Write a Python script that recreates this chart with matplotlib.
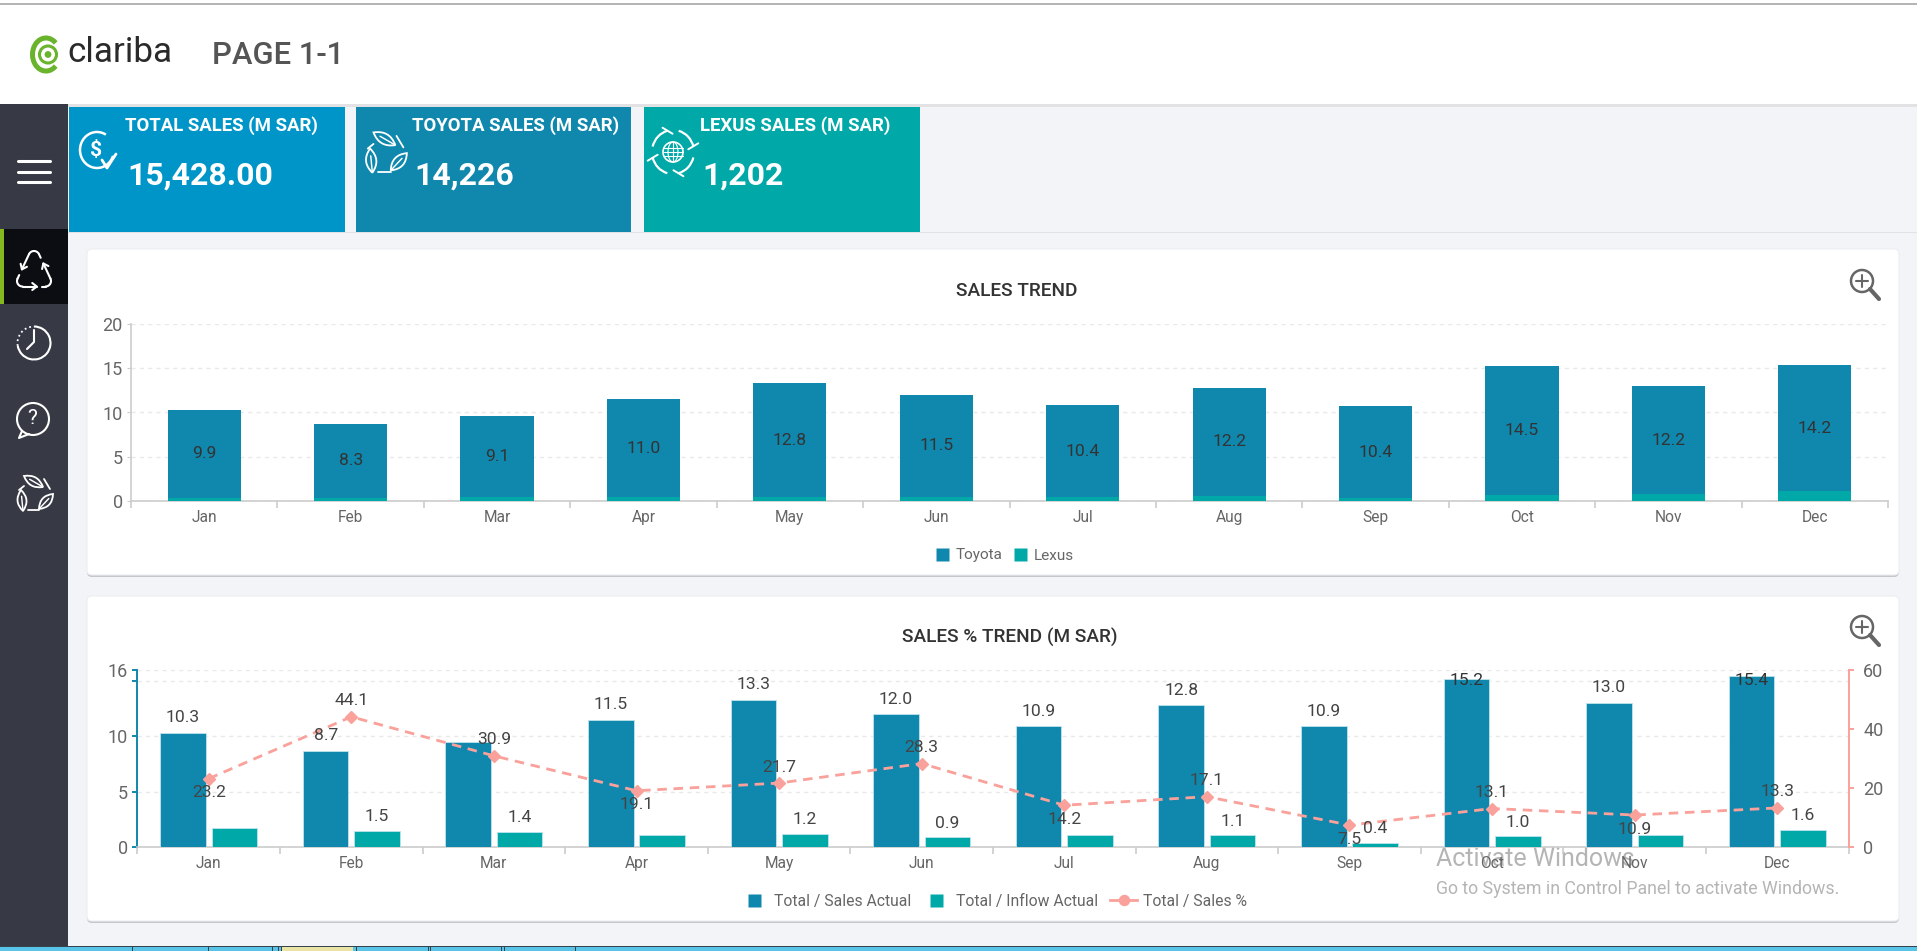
import numpy as np
import matplotlib
matplotlib.use("Agg")
import matplotlib.pyplot as plt
from matplotlib.patches import Rectangle, Circle, Arc, FancyBboxPatch, Ellipse, Polygon, PathPatch
from matplotlib.path import Path
from matplotlib.lines import Line2D

# ---------- data ----------
months = ["Jan", "Feb", "Mar", "Apr", "May", "Jun", "Jul", "Aug", "Sep", "Oct", "Nov", "Dec"]
toyota = [9.9, 8.3, 9.1, 11.0, 12.8, 11.5, 10.4, 12.2, 10.4, 14.5, 12.2, 14.2]
lexus = [0.4, 0.4, 0.5, 0.5, 0.5, 0.5, 0.45, 0.6, 0.35, 0.7, 0.8, 1.15]
sales_actual = [10.3, 8.7, 9.5, 11.5, 13.3, 12.0, 10.9, 12.8, 10.9, 15.2, 13.0, 15.4]
inflow_actual = [1.7, 1.5, 1.4, 1.1, 1.2, 0.9, 1.1, 1.1, 0.4, 1.0, 1.1, 1.6]
sales_pct = [23.2, 44.1, 30.9, 19.1, 21.7, 28.3, 14.2, 17.1, 7.5, 13.1, 10.9, 13.3]
pct_label_above = [False, True, True, False, True, True, False, True, False, True, False, True]
hidden_sales_labels = ["Mar"]
hidden_inflow_labels = ["Jan", "Apr", "Jul", "Nov"]
kpi_titles = ["TOTAL SALES (M SAR)", "TOYOTA SALES (M SAR)", "LEXUS SALES (M SAR)"]
kpi_values = ["15,428.00", "14,226", "1,202"]

BLUE, TEAL, PINK = "#1087ad", "#00a9a8", "#f9a19a"
GREY = "#666666"
W, H = 1917, 951
plt.rcParams["font.family"] = ["Roboto", "DejaVu Sans"]
px = 0.72  # pixels -> points at dpi 100

fig = plt.figure(figsize=(W / 100, H / 100), dpi=100, facecolor="#f3f4f8")

def axes_px(x0, y0, x1, y1, **kw):
    return fig.add_axes([x0 / W, 1 - y1 / H, (x1 - x0) / W, (y1 - y0) / H], **kw)

bg = axes_px(0, 0, W, H)
bg.set_xlim(0, W); bg.set_ylim(H, 0); bg.axis("off")

def rect(x0, y0, x1, y1, c, z=1):
    bg.add_patch(Rectangle((x0, y0), x1 - x0, y1 - y0, fc=c, ec="none", zorder=z))

def ln(xs, ys, c="white", lw=1.6, z=5, **kw):
    bg.plot(xs, ys, color=c, lw=lw, zorder=z, solid_capstyle="round", **kw)

# header
rect(0, 0, W, 104, "white")
rect(0, 3, W, 4.5, "#b5b5b5")
rect(0, 104, W, 107, "#e2e2e4")
rect(0, 232, W, 233, "#e2e2e4")
# logo
bg.add_patch(Arc((46, 54.5), 27, 33, theta1=50, theta2=310, ec="#6ab42d", lw=3.6, zorder=3))
bg.add_patch(Circle((48, 54.5), 8.5, fc="none", ec="#6ab42d", lw=2.2, zorder=3))
bg.add_patch(Circle((48, 54.5), 3.4, fc="#6ab42d", ec="none", zorder=3))
bg.text(67, 53, "clariba", fontsize=35 * px, color="#2a2a2a", va="center", ha="left", zorder=3)
bg.text(212, 55, "PAGE 1-1", fontsize=31 * px, color="#555555", va="center", ha="left",
        fontweight="medium", zorder=3)

# sidebar
rect(0, 104, 68, 951, "#373a45", 2)
rect(0, 229, 68, 304, "#0b0d12", 3)
rect(0, 229, 4, 304, "#85b81f", 4)
for y in (161, 171.5, 181.5):
    ln([18, 50], [y, y], lw=2.2)

def recycle(cx, cy, c="white", lw=1.5):
    """rounded triangle broken by three arrows"""
    rad = 5.5
    pts = np.array([[cx, cy - 11.5], [cx - 11.5, cy + 13], [cx + 11.5, cy + 13]], float)
    centre = pts.mean(axis=0)
    n = 3
    for i in range(n):
        a, b = pts[i], pts[(i + 1) % n]
        d = (b - a) / np.linalg.norm(b - a)
        nrm = np.array([d[1], -d[0]])
        if np.dot(nrm, a - centre) < 0:
            nrm = -nrm
        p0, p1 = a + nrm * rad, b + nrm * rad
        q = p0 + (p1 - p0) * 0.62
        ln([p0[0], q[0]], [p0[1], q[1]], c, lw)
        ln([q[0] - 4.5 * d[0] + 3.5 * nrm[0], q[0], q[0] - 4.5 * d[0] - 3.5 * nrm[0]],
           [q[1] - 4.5 * d[1] + 3.5 * nrm[1], q[1], q[1] - 4.5 * d[1] - 3.5 * nrm[1]], c, lw)
        ln([p1[0] - 4 * d[0], p1[0]], [p1[1] - 4 * d[1], p1[1]], c, lw)
        prev = pts[i - 1]
        ang0 = np.degrees(np.arctan2(nrm[1], nrm[0]))
        d2 = (a - prev) / np.linalg.norm(a - prev)
        nrm2 = np.array([d2[1], -d2[0]])
        if np.dot(nrm2, a - centre) < 0:
            nrm2 = -nrm2
        ang1 = np.degrees(np.arctan2(nrm2[1], nrm2[0]))
        t = np.radians(np.linspace(ang1, ang1 + ((ang0 - ang1 + 180) % 360 - 180), 14))
        ln(a[0] + rad * np.cos(t), a[1] + rad * np.sin(t), c, lw)

recycle(34, 268)
# clock
bg.add_patch(Arc((34, 343), 33, 33, theta1=-90, theta2=170, ec="white", lw=1.5, zorder=5))
bg.add_patch(Arc((34, 343), 33, 33, theta1=170, theta2=270, ec="white", lw=1.3, ls=":", zorder=5))
ln([34, 34, 27], [330, 342, 349], lw=1.5)
# speech bubble
bg.add_patch(Circle((33, 419), 16, fc="none", ec="white", lw=1.5, zorder=5))
ln([22, 19, 29], [431, 438, 434], lw=1.5)
bg.text(32.5, 419, "?", color="white", fontsize=21 * px, ha="center", va="center", zorder=6)

def leaf(base, tip, bulge, c="white", lw=1.3):
    base, tip = np.array(base, float), np.array(tip, float)
    d = tip - base
    nrm = np.array([d[1], -d[0]]) / np.linalg.norm(d)
    m = (base + tip) / 2
    verts = [base, m + nrm * bulge, tip, m - nrm * bulge, base]
    path = Path(verts, [Path.MOVETO, Path.CURVE3, Path.CURVE3, Path.CURVE3, Path.CURVE3])
    bg.add_patch(PathPatch(path, fc="none", ec=c, lw=lw, zorder=6))
    q = base + d * 0.7
    ln([base[0], q[0]], [base[1], q[1]], c, lw * 0.8, 6)

def leaves(cx, cy, s=1.0):
    leaf((cx + 9 * s, cy - 6 * s), (cx - 10 * s, cy - 17 * s), 9 * s)
    leaf((cx - 11 * s, cy + 18 * s), (cx - 13 * s, cy - 3 * s), 9 * s)
    leaf((cx + 5 * s, cy + 16 * s), (cx + 19 * s, cy + 1 * s), 9 * s)
    ln([cx + 10 * s, cx + 16 * s], [cy - 14 * s, cy - 4 * s], "white", 1.3, 6)
    ln([cx - 10 * s, cx - 15 * s], [cy - 7 * s, cy - 3 * s], "white", 1.3, 6)
    ln([cx - 6 * s, cx + 5 * s], [cy + 17 * s, cy + 17 * s], "white", 1.3, 6)

leaves(34, 493)

# KPI tiles
tiles = [(69, 345, "#0095c8"), (356, 631, BLUE), (644, 920, TEAL)]
for (x0, x1, c), t, v in zip(tiles, kpi_titles, kpi_values):
    rect(x0, 107, x1, 232, c, 2)
    bg.text(x0 + 56, 126, t, color="white", fontsize=18.6 * px, fontweight="bold", va="center", zorder=4)
    bg.text(x0 + 58, 176, v, color="white", fontsize=32 * px, fontweight="bold", va="center", zorder=4)
# KPI icons
bg.add_patch(Arc((97, 150), 34, 36, theta1=20, theta2=300, ec="white", lw=1.8, zorder=5))
bg.text(96, 150, "$", color="white", fontsize=21 * px, fontweight="bold", ha="center", va="center", zorder=5)
ln([102, 107, 116], [160, 168, 154], lw=2)
leaves(385, 152, 1.15)
# globe + swirl arrows
gx, gy = 673, 152
bg.add_patch(Circle((gx, gy), 10, fc="none", ec="white", lw=1.2, zorder=5))
bg.add_patch(Ellipse((gx, gy), 10, 20, fc="none", ec="white", lw=0.8, zorder=5))
for dy in (-4, 0, 4):
    ln([gx - 9.5, gx + 9.5], [gy + dy, gy + dy], lw=0.8)
ln([gx, gx], [gy - 10, gy + 10], lw=0.8)
for a in (45, 135, 225, 315):
    r = np.radians(a)
    bg.add_patch(Arc((gx, gy), 42, 44, theta1=a - 30, theta2=a + 30, ec="white", lw=1.6, zorder=5))
    ex, ey = gx + 21 * np.cos(r + np.radians(30)), gy + 22 * np.sin(r + np.radians(30))
    ln([ex - 5, ex, ex + 5], [ey - 3, ey, ey + 3] if a in (45, 225) else [ey + 3, ey, ey - 3], lw=1.4)

# chart cards
def card(x0, y0, x1, y1):
    bg.add_patch(FancyBboxPatch((x0, y0 + 2), x1 - x0, y1 - y0, boxstyle="round,pad=0,rounding_size=5",
                                fc="#c4c6cb", ec="none", zorder=1))
    bg.add_patch(FancyBboxPatch((x0, y0), x1 - x0, y1 - y0, boxstyle="round,pad=0,rounding_size=5",
                                fc="white", ec="#eceef1", lw=0.8, zorder=1.5))

card(87, 249, 1899, 575)
card(87, 596, 1899, 921)
bg.text(1017, 291, "SALES TREND", color="#333333", fontsize=19 * px, fontweight="medium",
        ha="center", va="center", zorder=4)
bg.text(1010, 637, "SALES % TREND (M SAR)", color="#333333", fontsize=19 * px, fontweight="medium",
        ha="center", va="center", zorder=4)
for cy in (281, 627):
    bg.add_patch(Circle((1862, cy), 11, fc="none", ec="#666666", lw=1.8, zorder=4))
    ln([1870, 1879], [cy + 8, cy + 18], "#666666", 3, 4)
    ln([1856, 1868], [cy, cy], "#666666", 1.5, 4)
    ln([1862, 1862], [cy - 6, cy + 6], "#666666", 1.5, 4)

# taskbar
rect(0, 947, W, H, "#5ac4e8", 3)
rect(0, 946, W, 947, "#33424d", 3)
rect(282, 947, 353, H, "#e9e3a5", 4)
for x in (132, 208, 272, 278, 281, 356, 428, 430, 501, 504, 575):
    rect(x, 947, x + 1, H, "#33424d", 5)

# watermark
bg.text(1436, 859, "Activate Windows", color="#b5b5b5", fontsize=25 * px, va="center", ha="left", zorder=20)
bg.text(1436, 889, "Go to System in Control Panel to activate Windows.", color="#b5b5b5",
        fontsize=17.8 * px, va="center", ha="left", zorder=20)

x = np.arange(len(months)) + 0.5
LABEL = 17.5 * px

def style_x(ax):
    ax.set_xlim(0, 12)
    ax.set_xticks(np.arange(13))
    ax.set_xticklabels([])
    ax.set_xticks(x, minor=True)
    ax.set_xticklabels(months, minor=True, fontsize=15.5 * px, color=GREY)
    ax.tick_params(axis="x", which="major", length=6.5 * px, color="#cccccc", width=1.2)
    ax.tick_params(axis="x", which="minor", length=0, pad=9 * px)
    ax.spines["bottom"].set_color("#cccccc")
    ax.spines["bottom"].set_linewidth(1.2)
    ax.spines["top"].set_visible(False)
    ax.patch.set_alpha(0)

# ---------- top chart ----------
a1 = axes_px(131, 323.7, 1888, 501.3)
a1.set_zorder(5)
style_x(a1)
a1.set_ylim(0, 20)
a1.set_yticks([0, 5, 10, 15, 20])
a1.tick_params(axis="y", length=4 * px, color="#cccccc", labelsize=18 * px, labelcolor=GREY, pad=3)
a1.spines["right"].set_visible(False)
a1.spines["left"].set_color("#cccccc")
a1.spines["left"].set_linewidth(1.2)
a1.grid(axis="y", color="#e9e9e9", lw=1, ls=(0, (3, 3)))
a1.set_axisbelow(True)
a1.bar(x, lexus, width=0.5, color=TEAL, label="Lexus", zorder=3)
a1.bar(x, toyota, width=0.5, bottom=lexus, color=BLUE, label="Toyota", zorder=3)
for xi, t, l in zip(x, toyota, lexus):
    a1.text(xi, l + t / 2, f"{t:.1f}", ha="center", va="center", fontsize=LABEL, color="#333333", zorder=4)

def sq(c, label):
    return Line2D([], [], ls="none", marker="s", ms=13 * px, mfc=c, mec="none", label=label)

fig.legend(handles=[sq(BLUE, "Toyota"), sq(TEAL, "Lexus")], loc="center", ncol=2, frameon=False,
           bbox_to_anchor=(1004 / W, 1 - 555.5 / H), fontsize=15.3 * px, labelcolor=GREY,
           handlelength=1.0, handletextpad=0.35, columnspacing=0.7)

# ---------- bottom chart ----------
a2 = axes_px(137.4, 669.7, 1848.6, 847.3)
a2.set_zorder(5)
style_x(a2)
a2.set_ylim(0, 16)
a2.set_yticks([0, 5, 10, 15, 16])
a2.set_yticklabels(["0", "5", "10", "", "16"])
a2.tick_params(axis="y", length=5 * px, color=BLUE, width=1.4, labelsize=18 * px, labelcolor=GREY, pad=3)
a2.spines["right"].set_visible(False)
a2.spines["left"].set_color(BLUE)
a2.spines["left"].set_linewidth(1.4)
a2.grid(axis="y", color="#e9e9e9", lw=1, ls=(0, (3, 3)))
a2.set_axisbelow(True)
EDGE = dict(edgecolor="#bfe4ee", linewidth=0.6, zorder=3)
a2.bar(x - 0.18, sales_actual, width=0.32, color=BLUE, **EDGE)
a2.bar(x + 0.18, inflow_actual, width=0.32, color=TEAL, **EDGE)

a3 = a2.twinx()
a3.set_zorder(6)
a3.patch.set_alpha(0)
a3.set_ylim(0, 60)
a3.set_yticks([0, 20, 40, 60])
a3.tick_params(axis="y", length=5 * px, color=PINK, width=1.4, labelsize=18 * px, labelcolor=GREY, pad=7)
for s in ("left", "top", "bottom"):
    a3.spines[s].set_visible(False)
a3.spines["right"].set_color(PINK)
a3.spines["right"].set_linewidth(1.4)
a3.plot(x, sales_pct, color=PINK, lw=2.8 * px, ls=(0, (3.4, 2.4)), marker="D", ms=8 * px, mfc=PINK, mec=PINK)

to_pct = 60 / 16  # left-axis value -> right-axis value
for m, xi, v in zip(months, x, sales_actual):
    if m in hidden_sales_labels:
        continue
    if v > 15:  # labels that would leave the plot stay inside the bar top
        a3.text(xi - 0.18, 15 * to_pct, f"{v:.1f}", ha="center", va="center", fontsize=LABEL, color="#333333")
    else:
        a3.annotate(f"{v:.1f}", (xi - 0.18, v * to_pct), xytext=(0, 15 * px), textcoords="offset points",
                    ha="center", va="center", fontsize=LABEL, color="#444444")
for m, xi, v in zip(months, x, inflow_actual):
    if m not in hidden_inflow_labels:
        a3.annotate(f"{v:.1f}", (xi + 0.18, v * to_pct), xytext=(0, 14 * px), textcoords="offset points",
                    ha="center", va="center", fontsize=LABEL, color="#444444")
for xi, v, up in zip(x, sales_pct, pct_label_above):
    a3.annotate(f"{v:.1f}", (xi, v), xytext=(0, (16 if up else -14) * px), textcoords="offset points",
                ha="center", va="center", fontsize=LABEL, color="#444444")

fig.legend(handles=[sq(BLUE, "Total / Sales Actual"), sq(TEAL, "Total / Inflow Actual"),
                    Line2D([], [], color=PINK, lw=2, marker="o", ms=10 * px, label="Total / Sales %")],
           loc="center", ncol=3, frameon=False, bbox_to_anchor=(994 / W, 1 - 901.5 / H), fontsize=15.8 * px,
           labelcolor=GREY, handlelength=1.7, handletextpad=0.4, columnspacing=0.75)

fig.savefig("out.png", dpi=100, facecolor=fig.get_facecolor())
